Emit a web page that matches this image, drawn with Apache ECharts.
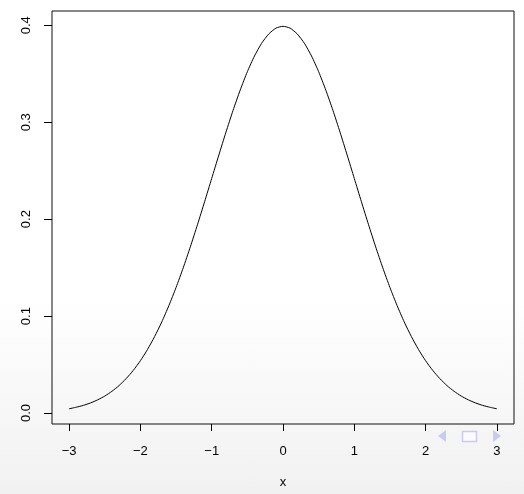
<!DOCTYPE html>
<html>
<head>
<meta charset="utf-8">
<script src="https://cdn.jsdelivr.net/npm/echarts@6/dist/echarts.min.js"></script>
<style>
    html, body { margin: 0; padding: 0; }
    #chart {
        width: 524px;
        height: 494px;
        background: linear-gradient(to bottom, #ffffff 0%, #ffffff 60%, #f1f1f1 100%);
    }
</style>
</head>
<body>
<div id="chart"></div>
<script>
// x positions of the curve
const xValues = [
    -3.0, -2.9, -2.8, -2.7, -2.6, -2.5, -2.4, -2.3, -2.2, -2.1,
    -2.0, -1.9, -1.8, -1.7, -1.6, -1.5, -1.4, -1.3, -1.2, -1.1,
    -1.0, -0.9, -0.8, -0.7, -0.6, -0.5, -0.4, -0.3, -0.2, -0.1,
    0.0, 0.1, 0.2, 0.3, 0.4, 0.5, 0.6, 0.7, 0.8, 0.9,
    1.0, 1.1, 1.2, 1.3, 1.4, 1.5, 1.6, 1.7, 1.8, 1.9,
    2.0, 2.1, 2.2, 2.3, 2.4, 2.5, 2.6, 2.7, 2.8, 2.9, 3.0
];
// density height at each x
const yValues = [
    0.0044, 0.0060, 0.0079, 0.0104, 0.0136, 0.0175, 0.0224, 0.0283, 0.0355, 0.0440,
    0.0540, 0.0656, 0.0790, 0.0940, 0.1109, 0.1295, 0.1497, 0.1714, 0.1942, 0.2179,
    0.2420, 0.2661, 0.2897, 0.3123, 0.3332, 0.3521, 0.3683, 0.3814, 0.3910, 0.3970,
    0.3989, 0.3970, 0.3910, 0.3814, 0.3683, 0.3521, 0.3332, 0.3123, 0.2897, 0.2661,
    0.2420, 0.2179, 0.1942, 0.1714, 0.1497, 0.1295, 0.1109, 0.0940, 0.0790, 0.0656,
    0.0540, 0.0440, 0.0355, 0.0283, 0.0224, 0.0175, 0.0136, 0.0104, 0.0079, 0.0060, 0.0044
];
const xTicks = [-3, -2, -1, 0, 1, 2, 3];
const yTicks = [0, 0.1, 0.2, 0.3, 0.4];

const fontFamily = '"Liberation Sans", Arial, Helvetica, sans-serif';
const navColor = '#c9c9f2';

const myChart = echarts.init(document.getElementById('chart'));

const options = {
    animation: false,
    grid: {
        left: 52,
        right: 10,
        top: 11,
        bottom: 69,
        show: true,
        borderColor: '#111',
        borderWidth: 1,
        backgroundColor: 'transparent',
    },
    xAxis: {
        type: 'value',
        min: -3.24,
        max: 3.24,
        name: 'x',
        nameLocation: 'middle',
        nameGap: 52,
        nameTextStyle: { color: '#000', fontSize: 13, fontFamily: fontFamily },
        axisLine: { show: false, onZero: false },
        splitLine: { show: false },
        axisTick: {
            show: true,
            inside: false,
            length: 7,
            customValues: xTicks,
            lineStyle: { color: '#000', width: 1 },
        },
        axisLabel: {
            customValues: xTicks,
            margin: 21,
            color: '#000',
            fontSize: 13,
            fontFamily: fontFamily,
            formatter: (v) => String(v).replace('-', '\u2212'),
        },
    },
    yAxis: {
        type: 'value',
        min: -0.0113,
        max: 0.4147,
        axisLine: { show: false, onZero: false },
        splitLine: { show: false },
        axisTick: {
            show: true,
            inside: false,
            length: 8,
            customValues: yTicks,
            lineStyle: { color: '#000', width: 1 },
        },
        axisLabel: {
            customValues: yTicks,
            rotate: 90,
            margin: 19,
            color: '#000',
            fontSize: 13,
            fontFamily: fontFamily,
            formatter: (v) => v.toFixed(1),
        },
    },
    series: [
        {
            type: 'line',
            data: xValues.map((x, i) => [x, yValues[i]]),
            showSymbol: false,
            smooth: 0.2,
            lineStyle: { color: '#000', width: 1 },
        },
    ],
    graphic: [
        // beamer navigation symbols
        {
            type: 'polygon',
            shape: { points: [[446, 430], [446, 442], [438, 436]] },
            style: { fill: navColor },
        },
        {
            type: 'rect',
            shape: { x: 462.5, y: 431.5, width: 14, height: 10 },
            style: { fill: '#fbfbff', stroke: navColor, lineWidth: 1.5 },
        },
        {
            type: 'polygon',
            shape: { points: [[493, 430], [493, 442], [501, 436]] },
            style: { fill: navColor },
        },
    ],
};

myChart.setOption(options);
</script>
</body>
</html>
